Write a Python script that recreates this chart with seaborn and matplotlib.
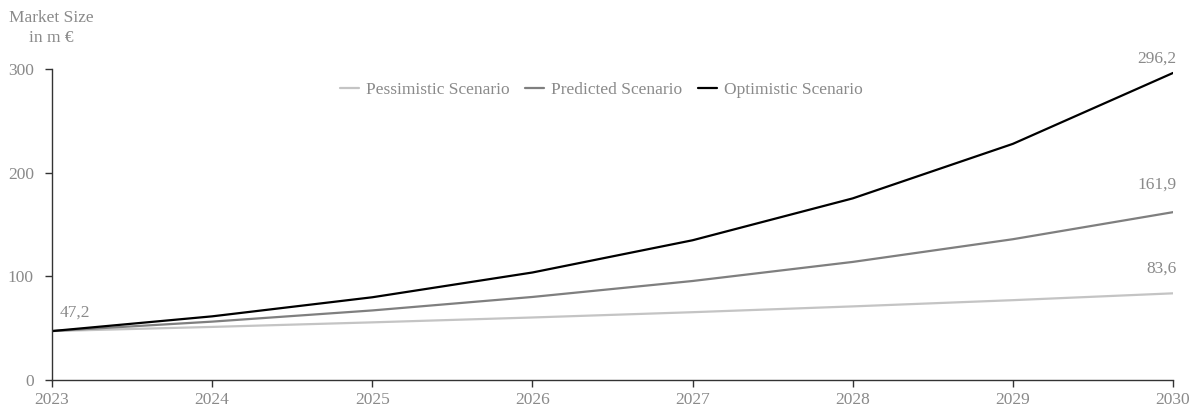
import matplotlib
matplotlib.use("Agg")
import matplotlib.pyplot as plt
import seaborn as sns
import pandas as pd

years = [2023, 2024, 2025, 2026, 2027, 2028, 2029, 2030]
pessimistic = [47.2, 51.2, 55.6, 60.3, 65.4, 71.0, 77.0, 83.6]
predicted = [47.2, 56.3, 67.1, 80.1, 95.5, 113.9, 135.8, 161.9]
optimistic = [47.2, 61.4, 79.8, 103.7, 134.8, 175.2, 227.8, 296.2]
series_names = ["Pessimistic Scenario", "Predicted Scenario", "Optimistic Scenario"]
colors = ["#c4c4c4", "#7f7f7f", "#000000"]
y_ticks = [0, 100, 200, 300]

sns.set_theme(style="ticks")
plt.rcParams["font.family"] = ["Liberation Serif", "DejaVu Serif"]
gray = "#8a8a8a"

rows = []
for name, vals in zip(series_names, [pessimistic, predicted, optimistic]):
    for y, v in zip(years, vals):
        rows.append({"Year": y, "Value": v, "Scenario": name})
df = pd.DataFrame(rows)

fig = plt.figure(figsize=(12.01, 4.12), dpi=100)
ax = fig.add_axes([0.0433, 0.0777, 0.9334, 0.7548])
sns.lineplot(data=df, x="Year", y="Value", hue="Scenario", hue_order=series_names,
             palette=colors, linewidth=1.6, ax=ax)

ax.set_xlim(years[0], years[-1])
ax.set_ylim(0, 300)
ax.set_xticks(years)
ax.set_xticklabels([str(y) for y in years])
ax.set_yticks(y_ticks)
ax.set_xlabel("")
ax.set_ylabel("")
sns.despine(ax=ax)
for s in ["left", "bottom"]:
    ax.spines[s].set_color("#333333")
    ax.spines[s].set_linewidth(1.0)
ax.tick_params(axis="both", colors="#333333", labelcolor=gray, labelsize=12.5,
               length=5, width=1.0, direction="out")
ax.tick_params(axis="x", pad=4)
ax.tick_params(axis="y", pad=8)

leg = ax.legend(loc="upper center", bbox_to_anchor=(0.49, 1.01), ncol=3, frameon=False,
                fontsize=12.5, handlelength=1.1, columnspacing=0.9, handletextpad=0.4)
for t in leg.get_texts():
    t.set_color(gray)

# value labels
ax.text(years[0] + 0.05, pessimistic[0] + 10, "47,2", color=gray, fontsize=12.5,
        ha="left", va="bottom")
offsets = [16, 18.5, 6]
for vals, off in zip([pessimistic, predicted, optimistic], offsets):
    ax.text(years[-1] + 0.02, vals[-1] + off, f"{vals[-1]:.1f}".replace(".", ","),
            color=gray, fontsize=12.5, ha="right", va="bottom", clip_on=False)

fig.text(0.0425, 0.975, "Market Size\nin m €", color=gray, fontsize=12.5,
         ha="center", va="top", linespacing=1.3)

fig.savefig("out.png", dpi=100)
